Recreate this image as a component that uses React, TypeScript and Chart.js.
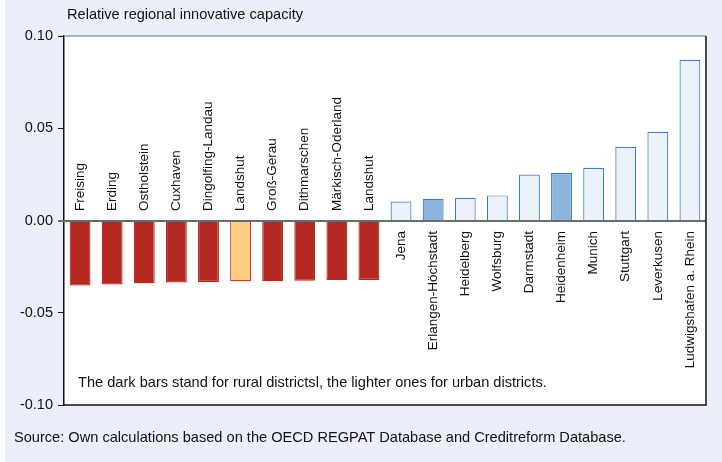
import React, { useEffect, useRef } from "react";
import { Chart, registerables } from "chart.js";

Chart.register(...registerables);

const districts = [
  "Freising", "Erding", "Ostholstein", "Cuxhaven", "Dingolfing-Landau",
  "Landshut", "Groß-Gerau", "Dithmarschen", "Märkisch-Oderland", "Landshut",
  "Jena", "Erlangen-Höchstadt", "Heidelberg", "Wolfsburg", "Darmstadt",
  "Heidenheim", "Munich", "Stuttgart", "Leverkusen", "Ludwigshafen a. Rhein",
];
const capacity = [
  -0.0352, -0.0347, -0.034, -0.0336, -0.0333,
  -0.0329, -0.0329, -0.0327, -0.0323, -0.0322,
  0.0103, 0.0118, 0.0123, 0.0136, 0.0249,
  0.0258, 0.0286, 0.0399, 0.0481, 0.0871,
];
const highlighted = [
  false, false, false, false, false,
  true, false, false, false, false,
  false, true, false, false, false,
  true, false, false, false, false,
];
const yTicks = [-0.1, -0.05, 0, 0.05, 0.1];

const titleText = "Relative regional innovative capacity";
const noteText = "The dark bars stand for rural districtsl, the lighter ones for urban districts.";
const sourceText = "Source: Own calculations based on the OECD REGPAT Database and Creditreform Database.";

const FONT = "'Liberation Sans', Arial, sans-serif";
const PANEL = "#EBEFFA";

const fills = capacity.map((v, i) =>
  v < 0 ? (highlighted[i] ? "#FDCD82" : "#B42A22") : highlighted[i] ? "#8EB4DC" : "#EDF1FB"
);
const borders = capacity.map((v, i) =>
  v < 0 ? (highlighted[i] ? "#C0392B" : "#B42A22") : "#3A80C3"
);

const decorPlugin = {
  id: "decor",
  beforeDraw(chart: any) {
    const { ctx, chartArea } = chart;
    ctx.save();
    ctx.fillStyle = "#ffffff";
    ctx.fillRect(0, 0, chart.width, chart.height);
    ctx.fillStyle = PANEL;
    ctx.fillRect(5, 0, chart.width - 5, chart.height);
    ctx.fillStyle = "#ffffff";
    ctx.fillRect(chartArea.left, chartArea.top, chartArea.right - chartArea.left, chartArea.bottom - chartArea.top);
    ctx.restore();
  },
  afterDatasetsDraw(chart: any) {
    const { ctx, chartArea, scales } = chart;
    const y = scales.y;
    const x = scales.x;
    const y0 = Math.round(y.getPixelForValue(0));
    ctx.save();
    // zero line
    ctx.strokeStyle = "#6b6b6b";
    ctx.lineWidth = 2;
    ctx.beginPath();
    ctx.moveTo(chartArea.left - 6, y0);
    ctx.lineTo(chartArea.right, y0);
    ctx.stroke();
    // frame
    ctx.lineWidth = 1.5;
    ctx.strokeStyle = "#9a9a9a";
    ctx.beginPath();
    ctx.moveTo(chartArea.left, chartArea.top);
    ctx.lineTo(chartArea.right, chartArea.top);
    ctx.stroke();
    ctx.strokeStyle = "#111";
    ctx.beginPath();
    ctx.moveTo(chartArea.right, chartArea.top);
    ctx.lineTo(chartArea.right, chartArea.bottom);
    ctx.lineTo(chartArea.left, chartArea.bottom);
    ctx.stroke();
    // bar labels
    ctx.fillStyle = "#111";
    ctx.font = `13.5px ${FONT}`;
    ctx.textBaseline = "middle";
    districts.forEach((name, i) => {
      const cx = x.getPixelForValue(i);
      ctx.save();
      if (capacity[i] < 0) {
        ctx.translate(cx, y0 - 10);
        ctx.rotate(-Math.PI / 2);
        ctx.textAlign = "left";
      } else {
        ctx.translate(cx, y0 + 10);
        ctx.rotate(-Math.PI / 2);
        ctx.textAlign = "right";
      }
      ctx.fillText(name, 0, 0);
      ctx.restore();
    });
    // texts
    ctx.textAlign = "left";
    ctx.textBaseline = "middle";
    ctx.font = `14.6px ${FONT}`;
    ctx.fillText(titleText, 67, 15);
    ctx.fillText(noteText, 78, 383);
    ctx.fillText(sourceText, 14, 438);
    ctx.restore();
  },
};

export default function App() {
  const ref = useRef<HTMLCanvasElement | null>(null);
  useEffect(() => {
    document.body.style.margin = "0";
    const canvas = ref.current!;
    const chart = new Chart(canvas, {
      type: "bar",
      data: {
        labels: districts,
        datasets: [
          {
            data: capacity,
            backgroundColor: fills,
            borderColor: borders,
            borderWidth: 1.2,
            barPercentage: 0.65,
            categoryPercentage: 1,
          },
        ],
      },
      options: {
        animation: false,
        responsive: false,
        devicePixelRatio: 1,
        layout: { padding: { left: 8, right: 16, top: 36, bottom: 57 } },
        plugins: { legend: { display: false }, tooltip: { enabled: false }, title: { display: false } },
        scales: {
          x: { display: false },
          y: {
            min: -0.1,
            max: 0.1,
            afterFit: (s: any) => {
              s.width = 56;
            },
            afterBuildTicks: (s: any) => {
              s.ticks = yTicks.map((v) => ({ value: v }));
            },
            ticks: {
              padding: 5,
              color: "#111",
              font: { family: FONT, size: 14.5 },
              callback: (v: any) => Number(v).toFixed(2),
            },
            grid: { drawOnChartArea: false, drawTicks: true, tickLength: 6, color: "#111" },
            border: { display: true, color: "#111", width: 1.5 },
          },
        },
      },
      plugins: [decorPlugin],
    });
    return () => chart.destroy();
  }, []);
  return (
    <div style={{ position: "absolute", left: 0, top: 0, width: 722, height: 462 }}>
      <canvas ref={ref} width={722} height={462} />
    </div>
  );
}
